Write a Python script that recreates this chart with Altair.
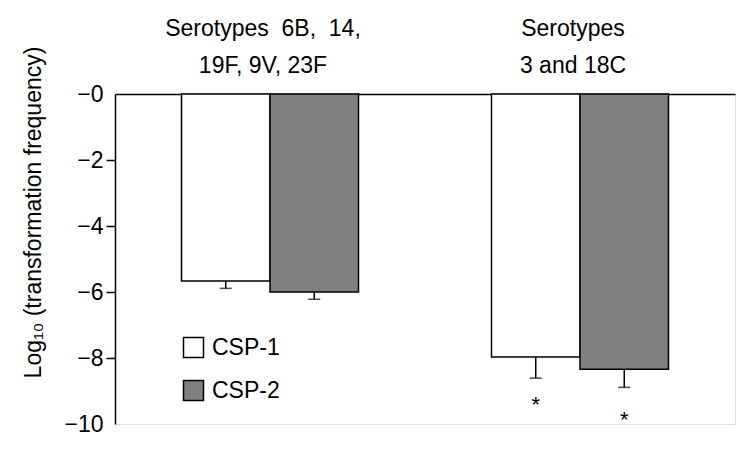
import altair as alt
import pandas as pd

# ---- data ----
groups = ["g1", "g2"]
group_line1 = ["Serotypes\u00a0 6B,\u00a0 14,", "Serotypes"]
group_line2 = ["19F, 9V, 23F", "3 and 18C"]
peptides = ["CSP-1", "CSP-2"]
group_col = ["g1", "g1", "g2", "g2"]
peptide_col = ["CSP-1", "CSP-2", "CSP-1", "CSP-2"]
means = [-5.67, -6.0, -7.97, -8.34]
errors = [0.22, 0.22, 0.64, 0.55]
significance = ["", "", "*", "*"]
star_level = [-6.2, -6.5, -9.42, -9.88]
y_ticks = [0, -2, -4, -6, -8, -10]

df = pd.DataFrame({
    "group": group_col,
    "peptide": peptide_col,
    "mean": means,
    "err": errors,
    "sig": significance,
    "star": star_level,
})
labels_df = pd.DataFrame({"group": groups, "line1": group_line1, "line2": group_line2})

FONT = "Liberation Sans"

x_scale = alt.Scale(domain=groups, paddingInner=0.429, paddingOuter=0.2145)
x_enc = alt.X(
    "group:N",
    scale=x_scale,
    axis=alt.Axis(
        orient="top",
        title=None,
        ticks=False,
        labels=False,
        domain=True,
        domainColor="black",
        domainWidth=1.5,
    ),
)
xoff = alt.XOffset("peptide:N", sort=peptides, scale=alt.Scale(paddingInner=0, paddingOuter=0))

y_scale = alt.Scale(domain=[-10, 0], nice=False, zero=True)
y_axis = alt.Axis(
    values=y_ticks,
    grid=False,
    domain=True,
    domainColor="black",
    domainWidth=1.5,
    tickColor="black",
    tickWidth=1.5,
    tickSize=9,
    tickOpacity={"condition": {"test": "datum.value == 0 || datum.value == -10", "value": 0}, "value": 1},
    labelFontSize=23,
    labelFont=FONT,
    labelColor="black",
    labelPadding=3,
    labelExpr="'\u2212' + abs(datum.value)",
    title="Log\u2081\u2080 (transformation frequency)",
    titleFont=FONT,
    titleFontSize=23,
    titleFontWeight="normal",
    titleColor="black",
    titleAngle=270,
    titleX=-82,
    titleY=118,
    titleAlign="center",
    titleBaseline="middle",
)

base = alt.Chart(df).transform_calculate(low="datum.mean - datum.err")

bars = base.mark_bar(stroke="black", strokeWidth=1.5).encode(
    x=x_enc,
    xOffset=xoff,
    y=alt.Y("mean:Q", scale=y_scale, axis=y_axis),
    fill=alt.Fill(
        "peptide:N",
        sort=peptides,
        scale=alt.Scale(domain=peptides, range=["white", "#808080"]),
        legend=alt.Legend(
            title=None,
            orient="none",
            legendX=67,
            legendY=242,
            symbolType="square",
            symbolSize=400,
            symbolStrokeColor="black",
            symbolStrokeWidth=1.5,
            labelFontSize=23,
            labelFont=FONT,
            labelColor="black",
            labelOffset=7,
            rowPadding=16,
            padding=0,
            symbolOffset=0,
        ),
    ),
)

err_rule = base.mark_rule(color="black", strokeWidth=1.5).encode(
    x=x_enc, xOffset=xoff, y=alt.Y("mean:Q", scale=y_scale), y2="low:Q"
)
err_cap = base.mark_tick(color="black", thickness=1.5, size=12, orient="horizontal").encode(
    x=x_enc, xOffset=xoff, y=alt.Y("low:Q", scale=y_scale)
)
stars = base.transform_filter("datum.sig != ''").mark_text(
    fontSize=22, font=FONT, color="black", baseline="middle"
).encode(x=x_enc, xOffset=xoff, y=alt.Y("star:Q", scale=y_scale), text="sig:N")

title1 = alt.Chart(labels_df).mark_text(
    fontSize=23, font=FONT, color="black", baseline="alphabetic", align="center", dx=-7
).encode(x=alt.X("group:N", scale=x_scale), y=alt.value(-58), text="line1:N")
title2 = alt.Chart(labels_df).mark_text(
    fontSize=23, font=FONT, color="black", baseline="alphabetic", align="center", dx=-7
).encode(x=alt.X("group:N", scale=x_scale), y=alt.value(-21), text="line2:N")

chart = (
    alt.layer(bars, err_rule, err_cap, stars, title1, title2)
    .properties(
        width=620,
        height=330,
        autosize=alt.AutoSizeParams(type="none"),
        padding={"left": 107, "top": 86, "right": 7, "bottom": 26},
    )
    .configure_view(stroke=None)
    .configure(font=FONT, background="white")
)

chart.save("out.html", embed_options={"renderer": "svg", "actions": False})
